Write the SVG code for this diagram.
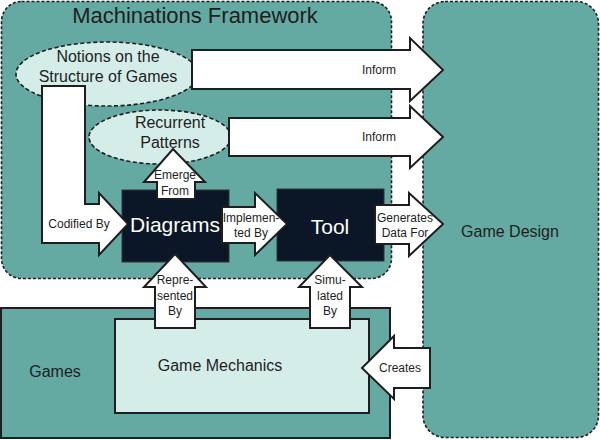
<svg xmlns="http://www.w3.org/2000/svg" width="600" height="440" viewBox="0 0 600 440">
<style>
.cont{fill:#64aaa2;stroke:#1e1e1e;stroke-width:1.6;stroke-dasharray:3,2}
.solid{stroke:#1e1e1e;stroke-width:2}
.ell{fill:#d5ede9;stroke:#1e1e1e;stroke-width:1.6;stroke-dasharray:4,2.5}
.dark{fill:#0b1726;stroke:#333;stroke-width:1}
.arr{fill:#ffffff;stroke:#1e1e1e;stroke-width:2;stroke-linejoin:miter}
text{font-family:"Liberation Sans",Arial,sans-serif;fill:#1e1e1e;text-anchor:middle}
.big{font-size:22px}
.mid{font-size:16px}
.sm{font-size:12px}
.white{fill:#ffffff;font-size:21px}
</style>
<g id="machinations-framework">
<rect class="cont" x="1.5" y="1.5" width="390" height="277" rx="20" ry="20"/>
<text class="big" x="195" y="23">Machinations Framework</text>
</g>
<g id="game-design">
<rect class="cont" x="423" y="1.5" width="175.5" height="436" rx="22" ry="22"/>
<text class="mid" x="510" y="237">Game Design</text>
</g>
<g id="games">
<rect class="solid" x="1" y="308" width="389" height="130" fill="#64aaa2"/>
<text class="mid" x="55" y="377">Games</text>
</g>
<g id="game-mechanics">
<rect class="solid" x="115" y="319" width="254" height="94" fill="#d5ede9"/>
<text class="mid" x="220" y="371">Game Mechanics</text>
</g>
<g id="notions">
<ellipse class="ell" cx="107" cy="74" rx="91" ry="32"/>
<text class="mid" x="108" y="62">Notions on the</text>
<text class="mid" x="108" y="82">Structure of Games</text>
</g>
<g id="recurrent-patterns">
<ellipse class="ell" cx="160" cy="137" rx="71" ry="27"/>
<text class="mid" x="170" y="128">Recurrent</text>
<text class="mid" x="170" y="148">Patterns</text>
</g>
<g id="diagrams">
<rect class="dark" x="122" y="190" width="107" height="72"/>
<text class="white" x="175" y="232">Diagrams</text>
</g>
<g id="tool">
<rect class="dark" x="277" y="189" width="107" height="72"/>
<text class="white" x="330" y="234">Tool</text>
</g>
<g id="connectors">
<polygon class="arr" points="192,50 410,50 410,38 443,70 410,101 410,89 192,89"/>
<text class="sm" x="379" y="74">Inform</text>
<polygon class="arr" points="229,118 410,118 410,106 443,137 410,168 410,156 229,156"/>
<text class="sm" x="379" y="141">Inform</text>
<polygon class="arr" points="42,86 85,86 85,204 99,204 99,193 128,224 99,255 99,243 42,243"/>
<text class="sm" x="79" y="228">Codified By</text>
<polygon class="arr" points="157,199 157,182 144,182 173,149 205,182 195,182 195,199"/>
<text class="sm" x="175" y="179">Emerge</text>
<text class="sm" x="175" y="195">From</text>
<polygon class="arr" points="222,207 255,207 255,193 287,224 255,255 255,243 222,243"/>
<text class="sm" x="251" y="222">Implemen-</text>
<text class="sm" x="251" y="237">ted By</text>
<polygon class="arr" points="375,205 409,205 409,193 443,224 409,256 409,244 375,244"/>
<text class="sm" x="405" y="222">Generates</text>
<text class="sm" x="405" y="237">Data For</text>
<polygon class="arr" points="155,328 155,287 144,287 175,254 206,287 195,287 195,328"/>
<text class="sm" x="175" y="284">Repre-</text>
<text class="sm" x="175" y="300">sented</text>
<text class="sm" x="175" y="315">By</text>
<polygon class="arr" points="310,328 310,287 299,287 330,255 362,287 350,287 350,328"/>
<text class="sm" x="330" y="284">Simu-</text>
<text class="sm" x="330" y="300">lated</text>
<text class="sm" x="330" y="315">By</text>
<polygon class="arr" points="430,348 394,348 394,336 362,368 394,399 394,388 430,388"/>
<text class="sm" x="400" y="372">Creates</text>
</g>
</svg>
